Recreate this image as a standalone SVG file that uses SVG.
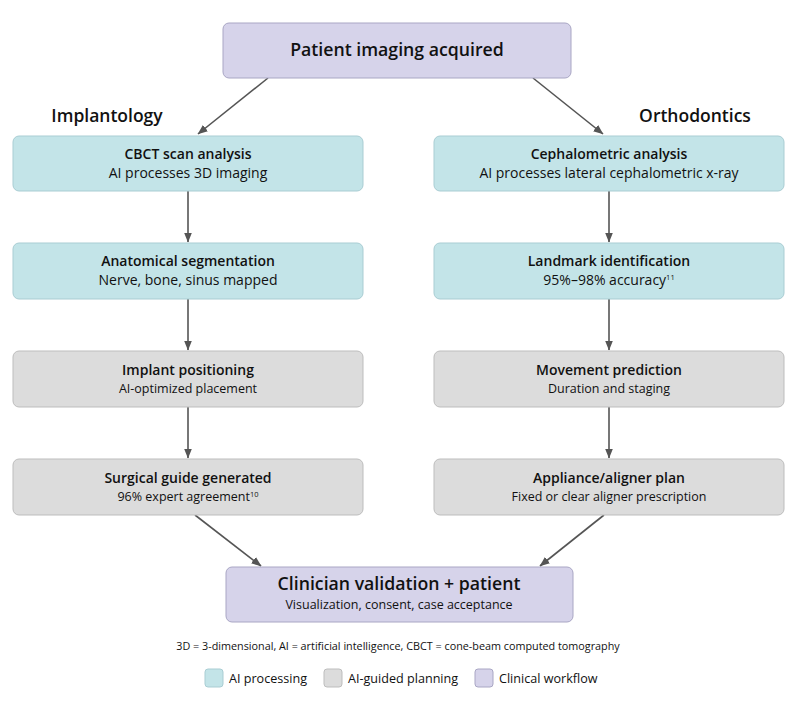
<svg xmlns="http://www.w3.org/2000/svg" width="796" height="707" viewBox="0 0 796 707">
<defs>
<style>
text{font-family:"Open Sans","Liberation Sans",sans-serif;fill:#111;text-anchor:middle}
.t{font-weight:600;font-size:14px}
.s{font-size:14px}
.ss{font-size:12.5px}
.big{font-weight:600;font-size:17.7px}
.hd{font-weight:600;font-size:17.5px}
.lg{font-size:12.6px;text-anchor:start}
.teal{fill:#c3e4e8;stroke:#a9cdd3;stroke-width:1}
.gray{fill:#dcdcdc;stroke:#bdbdbd;stroke-width:1}
.lav{fill:#d6d3ea;stroke:#a9a6c4;stroke-width:1}
.c{stroke:#555;stroke-width:1.6;fill:none;marker-end:url(#ah)}
</style>
<marker id="ah" viewBox="0 0 10 8" refX="9.5" refY="4" markerWidth="10" markerHeight="8" orient="auto" markerUnits="userSpaceOnUse">
<path d="M0,0 L10,4 L0,8 z" fill="#555"/>
</marker>
</defs>
<rect width="796" height="707" fill="#fff"/>
<g id="connectors">
<line class="c" x1="268" y1="78" x2="198" y2="134"/>
<line class="c" x1="533" y1="78" x2="603" y2="134"/>
<line class="c" x1="188" y1="191" x2="188" y2="242"/>
<line class="c" x1="188" y1="299" x2="188" y2="350"/>
<line class="c" x1="188" y1="407" x2="188" y2="458"/>
<line class="c" x1="609" y1="191" x2="609" y2="242"/>
<line class="c" x1="609" y1="299" x2="609" y2="350"/>
<line class="c" x1="609" y1="407" x2="609" y2="458"/>
<line class="c" x1="195" y1="515" x2="261" y2="566"/>
<line class="c" x1="604" y1="515" x2="540" y2="566"/>
</g>
<g id="top">
<rect class="lav" x="223" y="23" width="348" height="55" rx="6"/>
<text class="big" x="397" y="56">Patient imaging acquired</text>
</g>
<text class="hd" x="107" y="122">Implantology</text>
<text class="hd" x="695" y="122">Orthodontics</text>
<g id="cbct">
<rect class="teal" x="13" y="136" width="350" height="55" rx="6"/>
<text class="t" x="188" y="159">CBCT scan analysis</text>
<text class="s" x="188" y="178">AI processes 3D imaging</text>
</g>
<g id="seg">
<rect class="teal" x="13" y="243" width="350" height="56" rx="6"/>
<text class="t" x="188" y="266">Anatomical segmentation</text>
<text class="s" x="188" y="285">Nerve, bone, sinus mapped</text>
</g>
<g id="implant">
<rect class="gray" x="13" y="351" width="350" height="56" rx="6"/>
<text class="t" x="188" y="375">Implant positioning</text>
<text class="ss" x="188" y="393">AI-optimized placement</text>
</g>
<g id="guide">
<rect class="gray" x="13" y="459" width="350" height="56" rx="6"/>
<text class="t" x="188" y="483">Surgical guide generated</text>
<text class="ss" x="188" y="501">96% expert agreement<tspan font-size="7.5" dy="-4">10</tspan></text>
</g>
<g id="ceph">
<rect class="teal" x="434" y="136" width="350" height="55" rx="6"/>
<text class="t" x="609" y="159">Cephalometric analysis</text>
<text class="s" x="609" y="178">AI processes lateral cephalometric x-ray</text>
</g>
<g id="landmark">
<rect class="teal" x="434" y="243" width="350" height="56" rx="6"/>
<text class="t" x="609" y="266">Landmark identification</text>
<text class="s" x="609" y="285">95%–98% accuracy<tspan font-size="7.5" dy="-5">11</tspan></text>
</g>
<g id="movement">
<rect class="gray" x="434" y="351" width="350" height="56" rx="6"/>
<text class="t" x="609" y="375">Movement prediction</text>
<text class="ss" x="609" y="393">Duration and staging</text>
</g>
<g id="appliance">
<rect class="gray" x="434" y="459" width="350" height="56" rx="6"/>
<text class="t" x="609" y="483">Appliance/aligner plan</text>
<text class="ss" x="609" y="501">Fixed or clear aligner prescription</text>
</g>
<g id="bottom">
<rect class="lav" x="226" y="567" width="347" height="55" rx="6"/>
<text class="big" x="399" y="590">Clinician validation + patient</text>
<text class="ss" x="399" y="609">Visualization, consent, case acceptance</text>
</g>
<text x="398" y="650" font-size="10.8">3D = 3-dimensional, AI = artificial intelligence, CBCT = cone-beam computed tomography</text>
<g id="legend">
<rect class="teal" x="205" y="669" width="18" height="18" rx="3"/>
<text class="lg" x="229" y="683">AI processing</text>
<rect class="gray" x="324" y="669" width="18" height="18" rx="3"/>
<text class="lg" x="348" y="683">AI-guided planning</text>
<rect class="lav" x="475" y="669" width="18" height="18" rx="3"/>
<text class="lg" x="499" y="683">Clinical workflow</text>
</g>
</svg>
